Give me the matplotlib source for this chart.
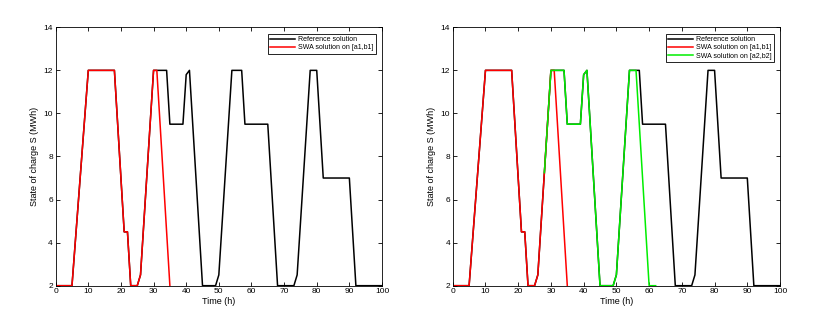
import matplotlib.pyplot as plt

plt.rcParams['font.family'] = ['Liberation Sans', 'DejaVu Sans']

# reference solution (time in h, state of charge in MWh)
t_ref = [0, 5, 10, 18, 21, 22, 23, 25, 26, 28, 30, 34, 35, 39, 40, 41, 45, 49, 50,
         54, 57, 58, 65, 68, 73, 74, 78, 80, 82, 90, 92, 100]
s_ref = [2, 2, 12, 12, 4.5, 4.5, 2, 2, 2.5, 7.25, 12, 12, 9.5, 9.5, 11.8, 12, 2, 2, 2.5,
         12, 12, 9.5, 9.5, 2, 2, 2.5, 12, 12, 7, 7, 2, 2]

# SWA solution on [a1,b1]
t_swa1 = [0, 5, 10, 18, 21, 22, 23, 25, 26, 30, 31, 35]
s_swa1 = [2, 2, 12, 12, 4.5, 4.5, 2, 2, 2.5, 12, 12, 2]

# SWA solution on [a2,b2]
t_swa2 = [28, 30, 34, 35, 39, 40, 41, 45, 49, 50, 54, 56, 60, 62]
s_swa2 = [7.25, 12, 12, 9.5, 9.5, 11.8, 12, 2, 2, 2.5, 12, 12, 2, 2]

fig = plt.figure(figsize=(8.15, 3.21), dpi=100)
ax1 = fig.add_axes([0.0683, 0.110, 0.4004, 0.805])
ax2 = fig.add_axes([0.5555, 0.110, 0.4016, 0.805])

ax1.plot(t_ref, s_ref, 'k-', lw=1.1, label='Reference solution')
ax1.plot(t_swa1, s_swa1, 'r-', lw=1.1, label='SWA solution on [a1,b1]')

ax2.plot(t_ref, s_ref, 'k-', lw=1.1, label='Reference solution')
ax2.plot(t_swa1, s_swa1, 'r-', lw=1.1, label='SWA solution on [a1,b1]')
ax2.plot(t_swa2, s_swa2, '-', color='#00ee00', lw=1.1, label='SWA solution on [a2,b2]')

for ax in (ax1, ax2):
    ax.set_xlim(0, 100)
    ax.set_ylim(2, 14)
    ax.set_xticks(range(0, 101, 10))
    ax.set_yticks(range(2, 15, 2))
    ax.tick_params(direction='in', length=3, width=0.6, labelsize=6,
                   top=True, right=True, pad=2)
    for sp in ax.spines.values():
        sp.set_linewidth(0.6)
    ax.set_xlabel('Time (h)', fontsize=6.5, labelpad=1)
    ax.set_ylabel('State of charge S (MWh)', fontsize=6.5, labelpad=3)
    leg = ax.legend(loc='upper right', fontsize=5, fancybox=False, framealpha=1,
                    edgecolor='black', handlelength=3.6, borderpad=0.35,
                    labelspacing=0.2, handletextpad=0.4, borderaxespad=0.9)
    leg.get_frame().set_linewidth(0.6)

plt.savefig('out.png', dpi=100)
